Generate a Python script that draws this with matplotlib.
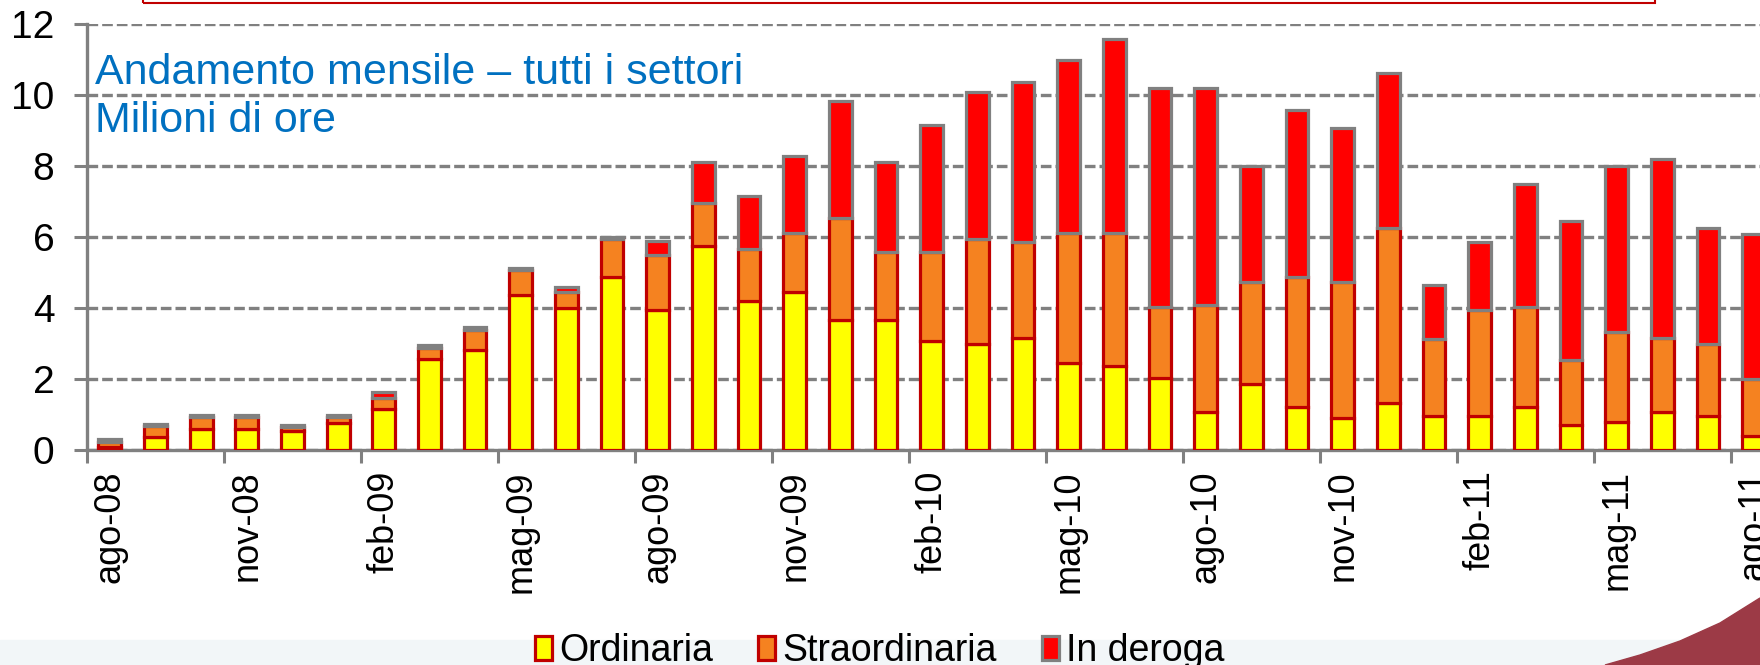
import numpy as np
import matplotlib.pyplot as plt
from matplotlib.patches import Patch, Rectangle, Polygon

plt.rcParams['font.family'] = ['Liberation Sans', 'DejaVu Sans']

mesi = ['ago-08', 'set-08', 'ott-08', 'nov-08', 'dic-08', 'gen-09', 'feb-09', 'mar-09',
        'apr-09', 'mag-09', 'giu-09', 'lug-09', 'ago-09', 'set-09', 'ott-09', 'nov-09',
        'dic-09', 'gen-10', 'feb-10', 'mar-10', 'apr-10', 'mag-10', 'giu-10', 'lug-10',
        'ago-10', 'set-10', 'ott-10', 'nov-10', 'dic-10', 'gen-11', 'feb-11', 'mar-11',
        'apr-11', 'mag-11', 'giu-11', 'lug-11', 'ago-11']

# milioni di ore
ordinaria = [0.08, 0.34, 0.59, 0.59, 0.52, 0.76, 1.13, 2.54, 2.80, 4.37, 4.00, 4.88,
             3.93, 5.75, 4.18, 4.44, 3.66, 3.66, 3.06, 2.97, 3.15, 2.45, 2.36, 2.01,
             1.05, 1.84, 1.21, 0.89, 1.31, 0.96, 0.96, 1.21, 0.70, 0.79, 1.05, 0.96, 0.37]
straordinaria = [0.14, 0.33, 0.33, 0.33, 0.12, 0.16, 0.33, 0.33, 0.58, 0.68, 0.44, 1.07,
                 1.56, 1.21, 1.47, 1.66, 2.88, 1.92, 2.52, 2.96, 2.69, 3.65, 3.74, 2.01,
                 3.04, 2.88, 3.67, 3.83, 4.95, 2.17, 2.98, 2.81, 1.82, 2.53, 2.10, 2.01, 1.62]
deroga = [0.07, 0.06, 0.06, 0.06, 0.06, 0.06, 0.16, 0.07, 0.08, 0.08, 0.15, 0.05,
          0.40, 1.14, 1.50, 2.17, 3.30, 2.52, 3.56, 4.16, 4.53, 4.88, 5.49, 6.17,
          6.10, 3.29, 4.70, 4.35, 4.37, 1.50, 1.90, 3.48, 3.93, 4.69, 5.05, 3.29, 4.10]

x = np.arange(len(mesi))
ordn = np.array(ordinaria)
stra = np.array(straordinaria)
der = np.array(deroga)

fig = plt.figure(figsize=(17.6, 6.65), dpi=100)

# slide background bits
fig.add_artist(Rectangle((0, 0), 1, 25/665, transform=fig.transFigure,
                         color='#F2F6F8', zorder=0))
sw = [(1605, 665), (1640, 655), (1680, 641), (1720, 623), (1760, 598), (1760, 665)]
fig.add_artist(Polygon([(a/1760, 1 - b/665) for a, b in sw], closed=True,
                       transform=fig.transFigure, color='#9C3A46', zorder=0))
fig.add_artist(Rectangle((143/1760, 1 - 3/665), (1655-143)/1760, 0.1,
                         transform=fig.transFigure, fill=False,
                         edgecolor='#C00000', lw=1.5))

ax = fig.add_axes([0.0494, 0.324, 0.9506, 0.6398])
ax.patch.set_alpha(0)

w = 0.5
lw = 2.3
ax.bar(x, ordn, w, color='#FFFF00', edgecolor='#C00000', linewidth=lw, zorder=3)
ax.bar(x, stra, w, bottom=ordn, color='#F58220', edgecolor='#C00000', linewidth=lw, zorder=3)
ax.bar(x, der, w, bottom=ordn+stra, color='#FF0000', edgecolor='#808080', linewidth=lw, zorder=3)

ax.set_xlim(-0.5, 36.14)
ax.set_ylim(0, 12)
ax.set_yticks(range(0, 13, 2))
ax.yaxis.grid(True, color='#808080', lw=2.4, ls=(0, (3.2, 1.2)))
ax.set_axisbelow(True)

ax.set_xticks(np.arange(-0.5, 37, 3))
ax.set_xticklabels([])
ax.set_xticks(x[::3], minor=True)
ax.set_xticklabels(mesi[::3], minor=True, rotation=90, fontsize=26)
ax.tick_params(axis='x', which='major', length=9.5, width=2.2, color='#808080')
ax.tick_params(axis='x', which='minor', length=0, pad=15)
ax.tick_params(axis='y', length=9.5, width=2.2, color='#808080', pad=14, labelsize=28)

for s in ['top', 'right']:
    ax.spines[s].set_visible(False)
for s in ['left', 'bottom']:
    ax.spines[s].set_color('#808080')
    ax.spines[s].set_linewidth(2.4)

fig.text(95/1760, 1 - 84/665, 'Andamento mensile – tutti i settori',
         fontsize=31, color='#0070C0', va='baseline')
fig.text(95/1760, 1 - 132/665, 'Milioni di ore',
         fontsize=31, color='#0070C0', va='baseline')

handles = [Patch(fc='#FFFF00', ec='#C00000', lw=lw, label='Ordinaria'),
           Patch(fc='#F58220', ec='#C00000', lw=lw, label='Straordinaria'),
           Patch(fc='#FF0000', ec='#808080', lw=lw, label='In deroga')]
fig.legend(handles=handles, loc='center', bbox_to_anchor=(0.5, 14/665), ncol=3,
           frameon=False, fontsize=27, handlelength=0.45, handleheight=0.6,
           handletextpad=0.2, columnspacing=1.2, borderpad=0, borderaxespad=0)

fig.savefig('out.png', dpi=100)
